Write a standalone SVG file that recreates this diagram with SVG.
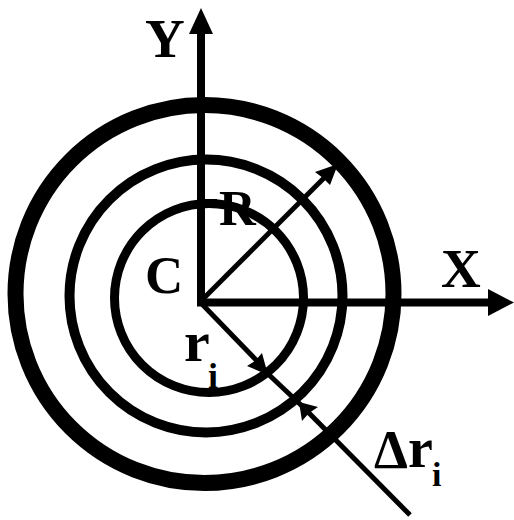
<svg xmlns="http://www.w3.org/2000/svg" width="514" height="520" viewBox="0 0 514 520">
<style>
.ring{fill:none;stroke:#000}
.ax{stroke:#000;stroke-width:8;fill:none}
.ln{stroke:#000;stroke-width:5;fill:none}
.hd{fill:#000}
.t{font-family:"Liberation Serif","Times New Roman",serif;font-weight:bold;fill:#000}
</style>
<rect width="514" height="520" fill="#fff"/>
<g id="circles">
<circle class="ring" cx="204.5" cy="294" r="189" stroke-width="16"/>
<circle class="ring" cx="206" cy="296" r="136.5" stroke-width="10"/>
<circle class="ring" cx="209" cy="298" r="94.5" stroke-width="9"/>
<line x1="200" y1="203" x2="217" y2="203" stroke="#000" stroke-width="8"/>
</g>
<g id="connectors">
<line class="ax" x1="201" y1="306" x2="201" y2="30"/>
<polygon class="hd" points="201,8 213,34 189,34"/>
<line class="ax" x1="197" y1="302.5" x2="490" y2="302.5"/>
<polygon class="hd" points="514,302.5 488,289 488,316"/>
<line class="ln" x1="200" y1="302" x2="326" y2="176"/>
<polygon class="hd" points="338,164 315,172 323,178 330,185"/>
<line class="ln" x1="200" y1="302" x2="262" y2="366"/>
<polygon class="hd" points="268,375 247,366 255,361 262,353"/>
<line class="ln" x1="266" y1="372" x2="302" y2="406"/>
<line class="ln" x1="308" y1="412" x2="410" y2="515"/>
<polygon class="hd" points="299,402 302,421 309,413 318,407"/>
</g>
<g id="labels">
<text class="t" x="145" y="57" font-size="55">Y</text>
<text class="t" x="219" y="225" font-size="51">R</text>
<text class="t" x="145" y="293" font-size="53">C</text>
<text class="t" x="441" y="287" font-size="55">X</text>
<text class="t" x="184" y="361" font-size="58">r</text>
<text class="t" x="208" y="388" font-size="36">i</text>
<text class="t" x="374" y="468" font-size="54">Δ</text>
<text class="t" x="408" y="467" font-size="56">r</text>
<text class="t" x="432" y="486" font-size="34">i</text>
</g>
</svg>
